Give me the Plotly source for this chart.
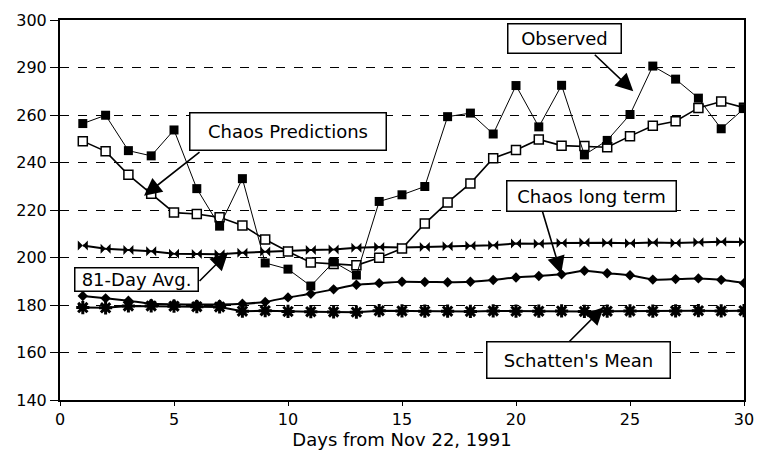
import plotly.graph_objects as go

days = list(range(1, 31))

observed = [256.4, 259.9, 245.0, 242.8, 253.7, 229.0, 213.2, 233.2, 197.7, 195.1,
            188.0, 198.1, 192.6, 223.6, 226.4, 229.9, 259.3, 260.8, 252.0, 272.4,
            255.0, 272.5, 243.2, 249.3, 260.2, 280.6, 275.1, 267.1, 254.2, 262.7]

chaos_pred = [249.0, 244.7, 234.8, 226.8, 218.9, 218.3, 216.9, 213.5, 207.6, 202.5,
              197.9, 197.3, 196.7, 199.9, 203.8, 214.3, 223.2, 231.2, 241.8, 245.3,
              249.7, 247.1, 246.9, 246.4, 251.1, 255.5, 257.4, 263.0, 265.7, 263.1]

avg81 = [205.1, 203.7, 203.2, 202.6, 201.6, 201.5, 201.4, 202.0, 202.5, 202.8,
         203.2, 203.4, 204.1, 204.4, 204.2, 204.4, 204.7, 205.0, 205.2, 205.9,
         205.8, 206.1, 206.3, 206.2, 206.0, 206.3, 206.1, 206.4, 206.6, 206.5]

chaos_long = [183.8, 182.8, 181.8, 180.5, 180.3, 180.2, 180.2, 180.5, 181.3, 183.2,
              184.7, 186.6, 188.5, 189.2, 189.8, 189.7, 189.6, 189.8, 190.5, 191.6,
              192.2, 192.9, 194.4, 193.4, 192.5, 190.7, 190.9, 191.2, 190.6, 189.2]

schatten = [178.9, 178.8, 179.6, 179.6, 179.5, 179.3, 179.2, 177.4, 177.6, 177.3,
            177.2, 177.1, 177.0, 177.6, 177.5, 177.4, 177.4, 177.3, 177.5, 177.4,
            177.4, 177.5, 177.3, 177.4, 177.5, 177.4, 177.5, 177.6, 177.5, 177.6]

y_tickvals = [140, 160, 180, 200, 220, 240, 260, 280, 300]
y_ticktext = ["140", "160", "180", "200", "220", "240", "260", "290", "300"]
x_tickvals = [0, 5, 10, 15, 20, 25, 30]
x_title = "Days from Nov 22, 1991"

FONT = "DejaVu Sans"
W, H = 765, 457
L, R, T, B = 60, 13, 11, 57
PW, PH = W - L - R, H - T - B


def pxx(px):
    return (px - L) / PW


def pxy(py):
    return (T + PH - py) / PH


fig = go.Figure()

fig.add_trace(go.Scatter(x=days, y=schatten, mode="lines+markers", name="Schatten's Mean",
                         line=dict(color="black", width=2),
                         marker=dict(symbol="asterisk", size=11, color="black",
                                     line=dict(color="black", width=3))))
fig.add_trace(go.Scatter(x=days, y=chaos_long, mode="lines+markers", name="Chaos long term",
                         line=dict(color="black", width=2, shape="spline", smoothing=0.5),
                         marker=dict(symbol="diamond", size=8, color="black")))
fig.add_trace(go.Scatter(x=days, y=avg81, mode="lines+markers", name="81-Day Avg.",
                         line=dict(color="black", width=2),
                         marker=dict(symbol="bowtie", size=10, color="black")))
fig.add_trace(go.Scatter(x=days, y=chaos_pred, mode="lines+markers", name="Chaos Predictions",
                         line=dict(color="black", width=1.6),
                         marker=dict(symbol="square", size=9, color="white",
                                     line=dict(color="black", width=1.5))))
fig.add_trace(go.Scatter(x=days, y=observed, mode="lines+markers", name="Observed",
                         line=dict(color="black", width=1),
                         marker=dict(symbol="square", size=9, color="black")))

# arrows (tail pixel -> tip pixel)
arrows = [((600, 46), (640, 84)),
          ((202, 146), (145, 191)),
          ((547, 204), (567, 271)),
          ((200, 279), (230, 249)),
          ((572, 343), (610, 305))]
for (tx, ty), (hx, hy) in arrows:
    fig.add_annotation(x=pxx(hx), y=pxy(hy), xref="paper", yref="paper",
                       ax=tx - hx, ay=ty - hy, text="", showarrow=True,
                       arrowhead=2, arrowsize=2.2, arrowwidth=1.6, arrowcolor="black",
                       standoff=0, startstandoff=0)

# labelled boxes (center pixel, width, height)
boxes = [("Observed", 570.5, 29.5, 115, 31),
         ("Chaos Predictions", 291, 125.2, 198, 39),
         ("Chaos long term", 597.5, 191, 171, 32),
         ("81-Day Avg.", 137.5, 276.5, 125, 25),
         ("Schatten's Mean", 584.5, 359, 185, 38)]
for text, cx, cy, bw, bh in boxes:
    fig.add_annotation(x=pxx(cx), y=pxy(cy), xref="paper", yref="paper",
                       xanchor="center", yanchor="middle", text=text, showarrow=False,
                       width=bw - 3, height=bh - 3, borderpad=0,
                       bordercolor="black", borderwidth=1.5, bgcolor="white",
                       font=dict(family=FONT, size=18, color="black"))

fig.update_layout(
    width=W, height=H, autosize=False,
    margin=dict(l=L, r=R, t=T, b=B),
    paper_bgcolor="white", plot_bgcolor="white",
    showlegend=False,
    font=dict(family=FONT, size=16, color="black"),
    xaxis=dict(range=[0, 30], tickvals=x_tickvals, showgrid=False, zeroline=False,
               showline=True, linecolor="black", linewidth=2, mirror=True,
               ticks="outside", ticklen=4, tickcolor="black",
               tickfont=dict(family=FONT, size=16, color="black"),
               title=dict(text=x_title, standoff=4,
                          font=dict(family=FONT, size=18, color="black"))),
    yaxis=dict(range=[140, 300], tickvals=y_tickvals, ticktext=y_ticktext,
               showgrid=True, gridcolor="black", gridwidth=1.3, griddash="dash",
               zeroline=False, showline=True, linecolor="black", linewidth=2, mirror=True,
               ticks="outside", ticklen=8, tickcolor="black",
               tickfont=dict(family=FONT, size=16, color="black")),
)

fig.write_html("out.html", config={"displayModeBar": False},
               post_script="document.body.style.margin='0';"
                           "document.documentElement.style.overflow='hidden';")
